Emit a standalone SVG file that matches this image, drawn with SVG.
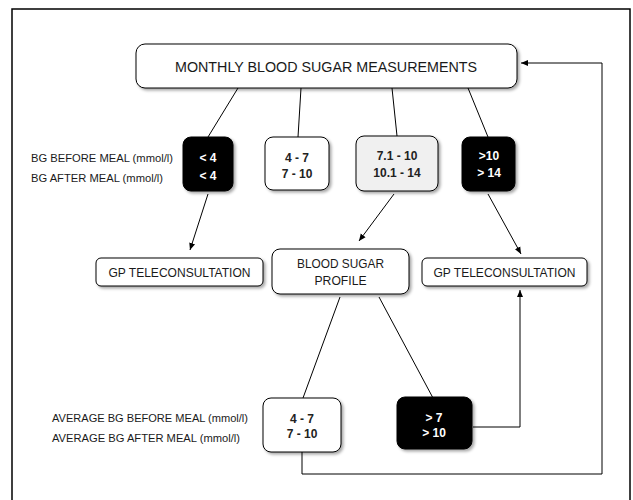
<svg xmlns="http://www.w3.org/2000/svg" width="633" height="500" viewBox="0 0 633 500">
<style>
.frame{fill:#fff;stroke:#000;stroke-width:1.5}
.box{fill:#fff;stroke:#000;stroke-width:1}
.dark{fill:#000;stroke:#000;stroke-width:1}
.grey{fill:#f0f0f0;stroke:#000;stroke-width:1}
.lbl{font-family:"Liberation Sans",Arial,sans-serif;fill:#1a1a1a}
.num{font-family:"Liberation Sans",Arial,sans-serif;font-weight:bold;font-size:12px;text-anchor:middle;fill:#222}
.wnum{font-family:"Liberation Sans",Arial,sans-serif;font-weight:bold;font-size:12px;text-anchor:middle;fill:#fff}
.c{fill:none;stroke:#000;stroke-width:1}
</style>
<defs>
<filter id="sh" x="-20%" y="-20%" width="140%" height="140%">
<feDropShadow dx="2" dy="2" stdDeviation="1.5" flood-color="#000" flood-opacity="0.35"/>
</filter>
<marker id="ah" markerWidth="8" markerHeight="8" refX="7" refY="4" orient="auto" markerUnits="userSpaceOnUse">
<path d="M0,1 L7,4 L0,7 Z" fill="#000"/>
</marker>
</defs>
<rect class="frame" x="12" y="9" width="618" height="500"/>
<g id="connectors">
<path class="c" d="M238 88 L208 137"/>
<path class="c" d="M301 88 L298 137"/>
<path class="c" d="M392 88 L397 136"/>
<path class="c" d="M468 88 L488 137"/>
<path class="c" d="M208 194 L190 250" marker-end="url(#ah)"/>
<path class="c" d="M394 194 L359 241" marker-end="url(#ah)"/>
<path class="c" d="M488 194 L521 254" marker-end="url(#ah)"/>
<path class="c" d="M340 297 L303 398"/>
<path class="c" d="M379 297 L433 398"/>
<path class="c" d="M473 427 H520 V290" marker-end="url(#ah)"/>
<path class="c" d="M302 452 V474 H602 V63 H521" marker-end="url(#ah)"/>
</g>
<g id="monthly">
<rect class="box" x="136" y="44" width="381" height="44" rx="9" filter="url(#sh)"/>
<text class="lbl" x="326" y="72" font-size="15" text-anchor="middle" textLength="302" lengthAdjust="spacingAndGlyphs">MONTHLY BLOOD SUGAR MEASUREMENTS</text>
</g>
<g id="labels-top">
<text class="lbl" x="31" y="162" font-size="11.5" textLength="142" lengthAdjust="spacingAndGlyphs">BG BEFORE MEAL (mmol/l)</text>
<text class="lbl" x="31" y="182" font-size="11.5" textLength="132" lengthAdjust="spacingAndGlyphs">BG AFTER MEAL (mmol/l)</text>
</g>
<g id="low">
<rect class="dark" x="183" y="137" width="50" height="54" rx="8" filter="url(#sh)"/>
<text class="wnum" x="208" y="162">&lt; 4</text>
<text class="wnum" x="208" y="180">&lt; 4</text>
</g>
<g id="normal">
<rect class="box" x="265" y="137" width="64" height="53" rx="8" filter="url(#sh)"/>
<text class="num" x="297" y="162">4 - 7</text>
<text class="num" x="297" y="178">7 - 10</text>
</g>
<g id="elevated">
<rect class="grey" x="356" y="136" width="82" height="55" rx="8" filter="url(#sh)"/>
<text class="num" x="397" y="160">7.1 - 10</text>
<text class="num" x="397" y="177">10.1 - 14</text>
</g>
<g id="high">
<rect class="dark" x="462" y="137" width="53" height="54" rx="8" filter="url(#sh)"/>
<text class="wnum" x="489" y="160">&gt;10</text>
<text class="wnum" x="489" y="177">&gt; 14</text>
</g>
<g id="gp-left">
<rect class="box" x="96" y="258" width="167" height="28" rx="5" filter="url(#sh)"/>
<text class="lbl" x="179.5" y="277" font-size="13" text-anchor="middle" textLength="142" lengthAdjust="spacingAndGlyphs">GP TELECONSULTATION</text>
</g>
<g id="profile">
<rect class="box" x="272" y="249" width="137" height="45" rx="8" filter="url(#sh)"/>
<text class="lbl" x="340.5" y="268" font-size="13" text-anchor="middle" textLength="87" lengthAdjust="spacingAndGlyphs">BLOOD SUGAR</text>
<text class="lbl" x="340.5" y="285" font-size="13" text-anchor="middle" textLength="52" lengthAdjust="spacingAndGlyphs">PROFILE</text>
</g>
<g id="gp-right">
<rect class="box" x="422" y="258" width="165" height="28" rx="5" filter="url(#sh)"/>
<text class="lbl" x="504.5" y="277" font-size="13" text-anchor="middle" textLength="142" lengthAdjust="spacingAndGlyphs">GP TELECONSULTATION</text>
</g>
<g id="labels-bottom">
<text class="lbl" x="52" y="422" font-size="11.5" textLength="196" lengthAdjust="spacingAndGlyphs">AVERAGE BG BEFORE MEAL (mmol/l)</text>
<text class="lbl" x="52" y="442" font-size="11.5" textLength="188" lengthAdjust="spacingAndGlyphs">AVERAGE BG AFTER MEAL (mmol/l)</text>
</g>
<g id="avg-normal">
<rect class="box" x="263" y="398" width="78" height="54" rx="8" filter="url(#sh)"/>
<text class="num" x="302" y="423">4 - 7</text>
<text class="num" x="302" y="438">7 - 10</text>
</g>
<g id="avg-high">
<rect class="dark" x="397" y="397" width="75" height="52" rx="8" filter="url(#sh)"/>
<text class="wnum" x="434" y="422">&gt; 7</text>
<text class="wnum" x="434" y="437">&gt; 10</text>
</g>
</svg>
